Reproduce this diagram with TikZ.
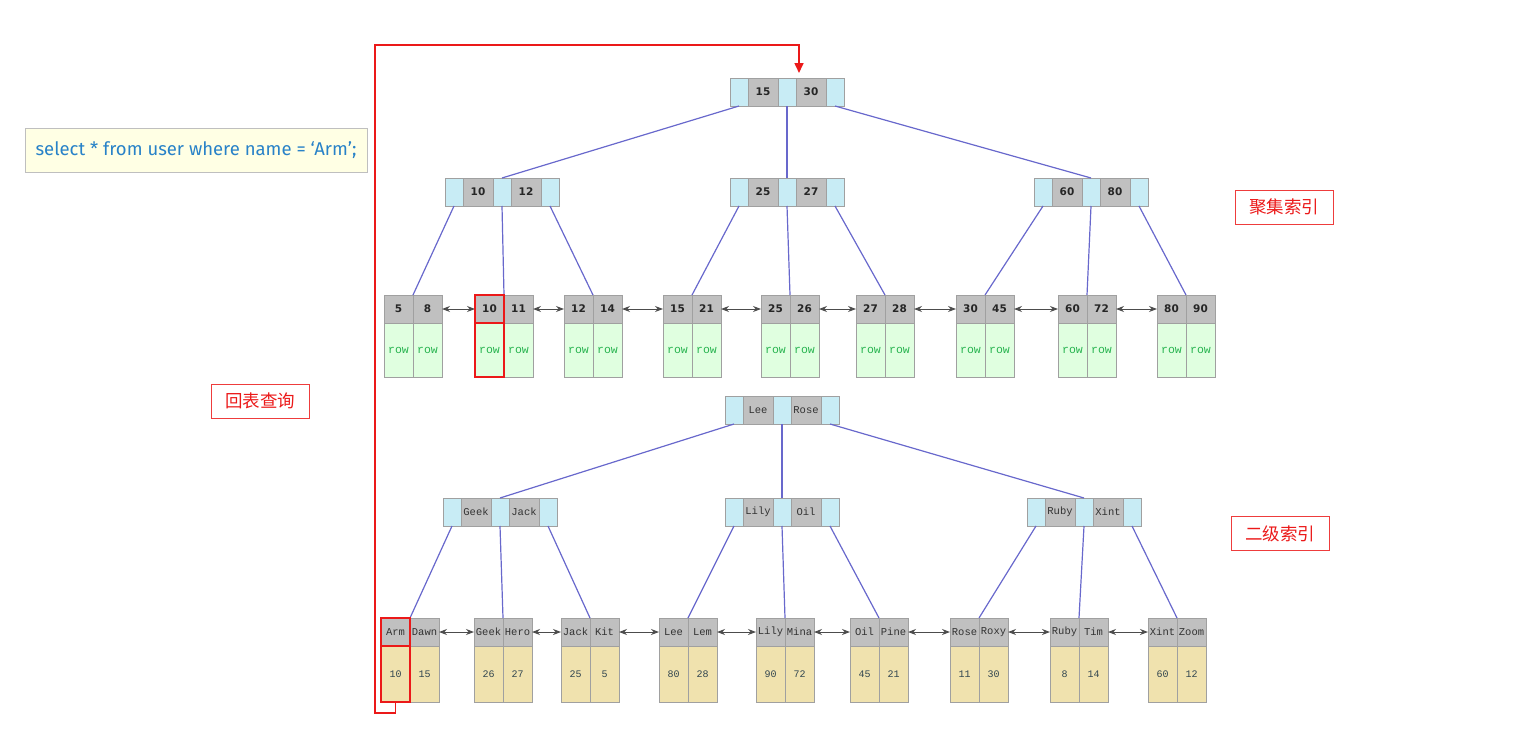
\documentclass[tikz,border=0pt]{standalone}
\usepackage{fontspec}
\setmainfont{DejaVu Sans}
\newfontfamily\monofont{Liberation Mono}
\newfontfamily\sqlfont{Fira Sans}
\newfontfamily\cjk{Noto Sans CJK SC}
\usetikzlibrary{positioning,arrows.meta}
\definecolor{ptrblue}{RGB}{200,236,245}
\definecolor{keygray}{RGB}{192,192,192}
\definecolor{rowgreen}{RGB}{224,255,224}
\definecolor{valyellow}{RGB}{240,226,174}
\definecolor{cellline}{RGB}{160,160,160}
\definecolor{edgeblue}{RGB}{104,104,204}
\definecolor{rowtext}{RGB}{40,180,80}
\definecolor{valtext}{RGB}{50,70,80}
\definecolor{hlred}{RGB}{235,25,25}
\definecolor{sqlblue}{RGB}{40,130,200}
\definecolor{sqlfill}{RGB}{255,255,228}

\begin{document}
\begin{tikzpicture}[
x=1pt,y=-1pt,
cell/.style={draw=cellline,line width=1pt,inner sep=0pt,outer sep=0pt,minimum height=28pt},
ptr/.style={cell,fill=ptrblue,minimum width=18pt},
ikey/.style={cell,fill=keygray,minimum width=30pt,text=black!85,font=\fontsize{10.5}{12}\selectfont\bfseries},
sikey/.style={ikey,text=black!80,font=\monofont\fontsize{10.5}{12}\selectfont},
ckey/.style={ikey,minimum width=29pt},
crow/.style={cell,fill=rowgreen,minimum width=29pt,minimum height=54pt,text=rowtext,font=\monofont\fontsize{11.5}{12}\selectfont},
skey/.style={sikey,minimum width=29pt},
sval/.style={cell,fill=valyellow,minimum width=29pt,minimum height=56pt,text=valtext,font=\monofont\fontsize{10}{12}\selectfont},
treeedge/.style={edgeblue,line width=1.2pt},
leaflink/.style={{Stealth[length=8pt,width=6pt]}-{Stealth[length=8pt,width=6pt]},black!70,line width=1pt},
hilite/.style={draw=hlred,line width=2pt},
route/.style={hlred,line width=1.6pt,-{Triangle[length=10pt,width=9pt]}},
tag/.style={draw=hlred!85,line width=0.8pt,text=hlred,font=\cjk\fontsize{17.5}{20}\selectfont,minimum width=98pt,minimum height=34pt,inner sep=0pt}
]
\useasboundingbox (0,0) rectangle (1536,736);

% clustered index: inner nodes
\foreach \n/\x/\y/\a/\b in {c0/730/78/15/30, c1/445/178/10/12, c2/730/178/25/27, c3/1034/178/60/80}{
  \node[ptr, anchor=north west] (\n-p0) at (\x,\y) {};
  \node[ikey, right=0pt of \n-p0] (\n-k1) {\a};
  \node[ptr, right=0pt of \n-k1] (\n-p2) {};
  \node[ikey, right=0pt of \n-p2] (\n-k3) {\b};
  \node[ptr, right=0pt of \n-k3] (\n-p4) {};
}
% clustered index: leaves
\foreach \i/\x/\a/\b in {1/384/5/8, 2/475/10/11, 3/564/12/14, 4/663/15/21, 5/761/25/26,
                         6/856/27/28, 7/956/30/45, 8/1058/60/72, 9/1157/80/90}{
  \node[ckey, anchor=north west] (cl\i-k1) at (\x,295) {\a};
  \node[ckey, right=0pt of cl\i-k1] (cl\i-k2) {\b};
  \node[crow, below=0pt of cl\i-k1] (cl\i-d1) {row};
  \node[crow, below=0pt of cl\i-k2] (cl\i-d2) {row};
}

% secondary index: inner nodes
\foreach \n/\x/\y/\a/\b in {s0/725/396/Lee/Rose, s1/443/498/Geek/Jack, s2/725/498/Lily/Oil, s3/1027/498/Ruby/Xint}{
  \node[ptr, anchor=north west] (\n-p0) at (\x,\y) {};
  \node[sikey, right=0pt of \n-p0] (\n-k1) {\a};
  \node[ptr, right=0pt of \n-k1] (\n-p2) {};
  \node[sikey, right=0pt of \n-p2] (\n-k3) {\b};
  \node[ptr, right=0pt of \n-k3] (\n-p4) {};
}
% secondary index: leaves
\foreach \i/\x/\a/\b/\u/\v in {1/381/Arm/Dawn/10/15, 2/474/Geek/Hero/26/27, 3/561/Jack/Kit/25/5,
                               4/659/Lee/Lem/80/28, 5/756/Lily/Mina/90/72, 6/850/Oil/Pine/45/21,
                               7/950/Rose/Roxy/11/30, 8/1050/Ruby/Tim/8/14, 9/1148/Xint/Zoom/60/12}{
  \node[skey, anchor=north west] (sl\i-k1) at (\x,618) {\a};
  \node[skey, right=0pt of sl\i-k1] (sl\i-k2) {\b};
  \node[sval, below=0pt of sl\i-k1] (sl\i-d1) {\u};
  \node[sval, below=0pt of sl\i-k2] (sl\i-d2) {\v};
}

% tree edges
\foreach \t in {c,s}{
  \draw[treeedge] (\t0-p0.south) -- (\t1-p2.north);
  \draw[treeedge] (\t0-p2.south) -- (\t2-p2.north);
  \draw[treeedge] (\t0-p4.south) -- (\t3-p2.north);
}
\foreach \p/\i/\j/\k in {1/1/2/3, 2/4/5/6, 3/7/8/9}{
  \draw[treeedge] (c\p-p0.south) -- (cl\i-k1.north east);
  \draw[treeedge] (c\p-p2.south) -- (cl\j-k1.north east);
  \draw[treeedge] (c\p-p4.south) -- (cl\k-k1.north east);
  \draw[treeedge] (s\p-p0.south) -- (sl\i-k1.north east);
  \draw[treeedge] (s\p-p2.south) -- (sl\j-k1.north east);
  \draw[treeedge] (s\p-p4.south) -- (sl\k-k1.north east);
}
% leaf links
\foreach \i/\j in {1/2,2/3,3/4,4/5,5/6,6/7,7/8,8/9}{
  \draw[leaflink] (cl\i-k2.east) -- (cl\j-k1.west);
  \draw[leaflink] (sl\i-k2.east) -- (sl\j-k1.west);
}

% lookup path
\draw[hilite] (cl2-k1.north west) rectangle (cl2-k1.south east);
\draw[hilite] (cl2-d1.north west) rectangle (cl2-d1.south east);
\draw[hilite] (sl1-k1.north west) rectangle (sl1-k1.south east);
\draw[hilite] (sl1-d1.north west) rectangle (sl1-d1.south east);
\coordinate (bend) at (375,45);
\draw[route, shorten >=5pt] (sl1-d1.south) -- ++(0,11) -| (bend) -| ([xshift=-12pt]c0-k3.north);

% labels
\node[draw=black!25,fill=sqlfill,text=sqlblue,font=\sqlfont\fontsize{18.5}{20}\selectfont,
      minimum width=342pt,minimum height=44pt,inner sep=0pt] (query) at (196,150)
      {select * from user where name = ‘Arm’;};
\node[tag] (clustered) at (1284,207) {聚集索引};
\node[tag] (secondary) at (1280,533.5) {二级索引};
\node[tag] (lookup) at (260,401) {回表查询};
\end{tikzpicture}
\end{document}
